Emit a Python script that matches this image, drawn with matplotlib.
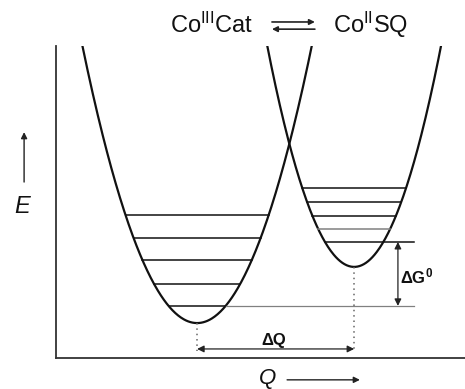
import numpy as np
import matplotlib
matplotlib.use("Agg")
import matplotlib.pyplot as plt

plt.rcParams['font.family'] = ['Liberation Sans', 'DejaVu Sans']
plt.rcParams['mathtext.fontset'] = 'custom'
plt.rcParams['mathtext.rm'] = 'Liberation Sans'
plt.rcParams['mathtext.it'] = 'Liberation Sans:italic'
plt.rcParams['mathtext.bf'] = 'Liberation Sans:bold'

# ---- data (arbitrary units) ----
states = ["Co$^{\\mathrm{III}}$Cat", "Co$^{\\mathrm{II}}$SQ"]
q_min = [3.45, 7.29]          # position of the minima along Q
e_min = [1.12, 2.92]          # energy of the minima
curvature = [1.13, 1.57]      # E = e_min + k (Q - q_min)^2
levels_cat = [1.67, 2.37, 3.14, 3.85, 4.58]
levels_sq = [3.72, 4.13, 4.55, 5.00, 5.45]
levels_sq_gray = [False, True, False, False, False]
ref_end_q = 8.75              # right end of the two reference lines
dg_arrow_q = 8.36
dq_arrow_e = 0.29

fig = plt.figure(figsize=(4.65, 3.89), dpi=100)
ax = fig.add_axes([56/465, 31/389, 409/465, 312/389])
ax.set_xlim(0, 10)
ax.set_ylim(0, 10)
for s in ['top', 'right']:
    ax.spines[s].set_visible(False)
for s in ['left', 'bottom']:
    ax.spines[s].set_color('#333333')
    ax.spines[s].set_linewidth(1.3)
ax.set_xticks([])
ax.set_yticks([])

dark = '#111111'
gray = '#808080'

def half_width(k, e0, e):
    return np.sqrt((e - e0) / k)

# parabolas
for q0, e0, k in zip(q_min, e_min, curvature):
    q = np.linspace(q0 - 3.5, q0 + 3.5, 400)
    ax.plot(q, e0 + k * (q - q0) ** 2, color=dark, lw=1.6, solid_capstyle='butt')

# vibrational levels, left well
for i, e in enumerate(levels_cat):
    hw = half_width(curvature[0], e_min[0], e)
    ax.plot([q_min[0] - hw, q_min[0] + hw], [e, e], color=dark, lw=1.1)
    if i == 0:
        ax.plot([q_min[0] + hw, ref_end_q], [e, e], color=gray, lw=0.9)

# vibrational levels, right well
for i, (e, g) in enumerate(zip(levels_sq, levels_sq_gray)):
    hw = half_width(curvature[1], e_min[1], e)
    x1 = ref_end_q if i == 0 else q_min[1] + hw
    ax.plot([q_min[1] - hw, x1], [e, e], color=gray if g else dark, lw=1.1)

# dotted drops from minima
for q0, e0 in zip(q_min, e_min):
    ax.plot([q0, q0], [e0, dq_arrow_e - 0.05], color='#666666', lw=1.1,
            linestyle=(0, (1, 2.5)))

# Delta Q arrow
ax.annotate('', xy=(q_min[1], dq_arrow_e), xytext=(q_min[0], dq_arrow_e),
            arrowprops=dict(arrowstyle='<|-|>', color='#222222', lw=0.9,
                            mutation_scale=10, shrinkA=0, shrinkB=0))
ax.text((q_min[0] + q_min[1]) / 2 - 0.05, dq_arrow_e + 0.13, 'ΔQ',
        ha='center', va='baseline', fontsize=12, fontweight='bold', color=dark)

# Delta G arrow
ax.annotate('', xy=(dg_arrow_q, levels_sq[0]), xytext=(dg_arrow_q, levels_cat[0]),
            arrowprops=dict(arrowstyle='<|-|>', color='#222222', lw=0.9,
                            mutation_scale=10, shrinkA=0, shrinkB=0))
ax.text(dg_arrow_q + 0.05, (levels_sq[0] + levels_cat[0]) / 2 - 0.08,
        'ΔG$^{\\mathbf{0}}$', ha='left', va='center', fontsize=12,
        fontweight='bold', color=dark)

# axis labels with arrows
ax.text(-0.83, 4.84, 'E', ha='center', va='center', fontsize=17,
        fontstyle='italic', color=dark, clip_on=False)
ax.annotate('', xy=(-0.78, 7.24), xytext=(-0.78, 5.64), annotation_clip=False,
            arrowprops=dict(arrowstyle='-|>', color='#222222', lw=1.0,
                            mutation_scale=9, shrinkA=0, shrinkB=0))
ax.text(5.18, -0.67, 'Q', ha='center', va='center', fontsize=16,
        fontstyle='italic', color=dark, clip_on=False)
ax.annotate('', xy=(7.43, -0.70), xytext=(5.65, -0.70), annotation_clip=False,
            arrowprops=dict(arrowstyle='-|>', color='#222222', lw=1.0,
                            mutation_scale=9, shrinkA=0, shrinkB=0))

# title: equilibrium
ax.text(3.80, 10.42, states[0], ha='center', va='baseline', fontsize=17,
        color=dark, clip_on=False)
ax.text(7.70, 10.42, states[1], ha='center', va='baseline', fontsize=17,
        color=dark, clip_on=False)
ax.annotate('', xy=(6.33, 10.77), xytext=(5.28, 10.77), annotation_clip=False,
            arrowprops=dict(arrowstyle='-|>', color='#222222', lw=1.2,
                            mutation_scale=8, shrinkA=0, shrinkB=0))
ax.annotate('', xy=(5.28, 10.54), xytext=(6.33, 10.54), annotation_clip=False,
            arrowprops=dict(arrowstyle='-|>', color='#222222', lw=1.2,
                            mutation_scale=8, shrinkA=0, shrinkB=0))

fig.savefig('out.png', dpi=100)
